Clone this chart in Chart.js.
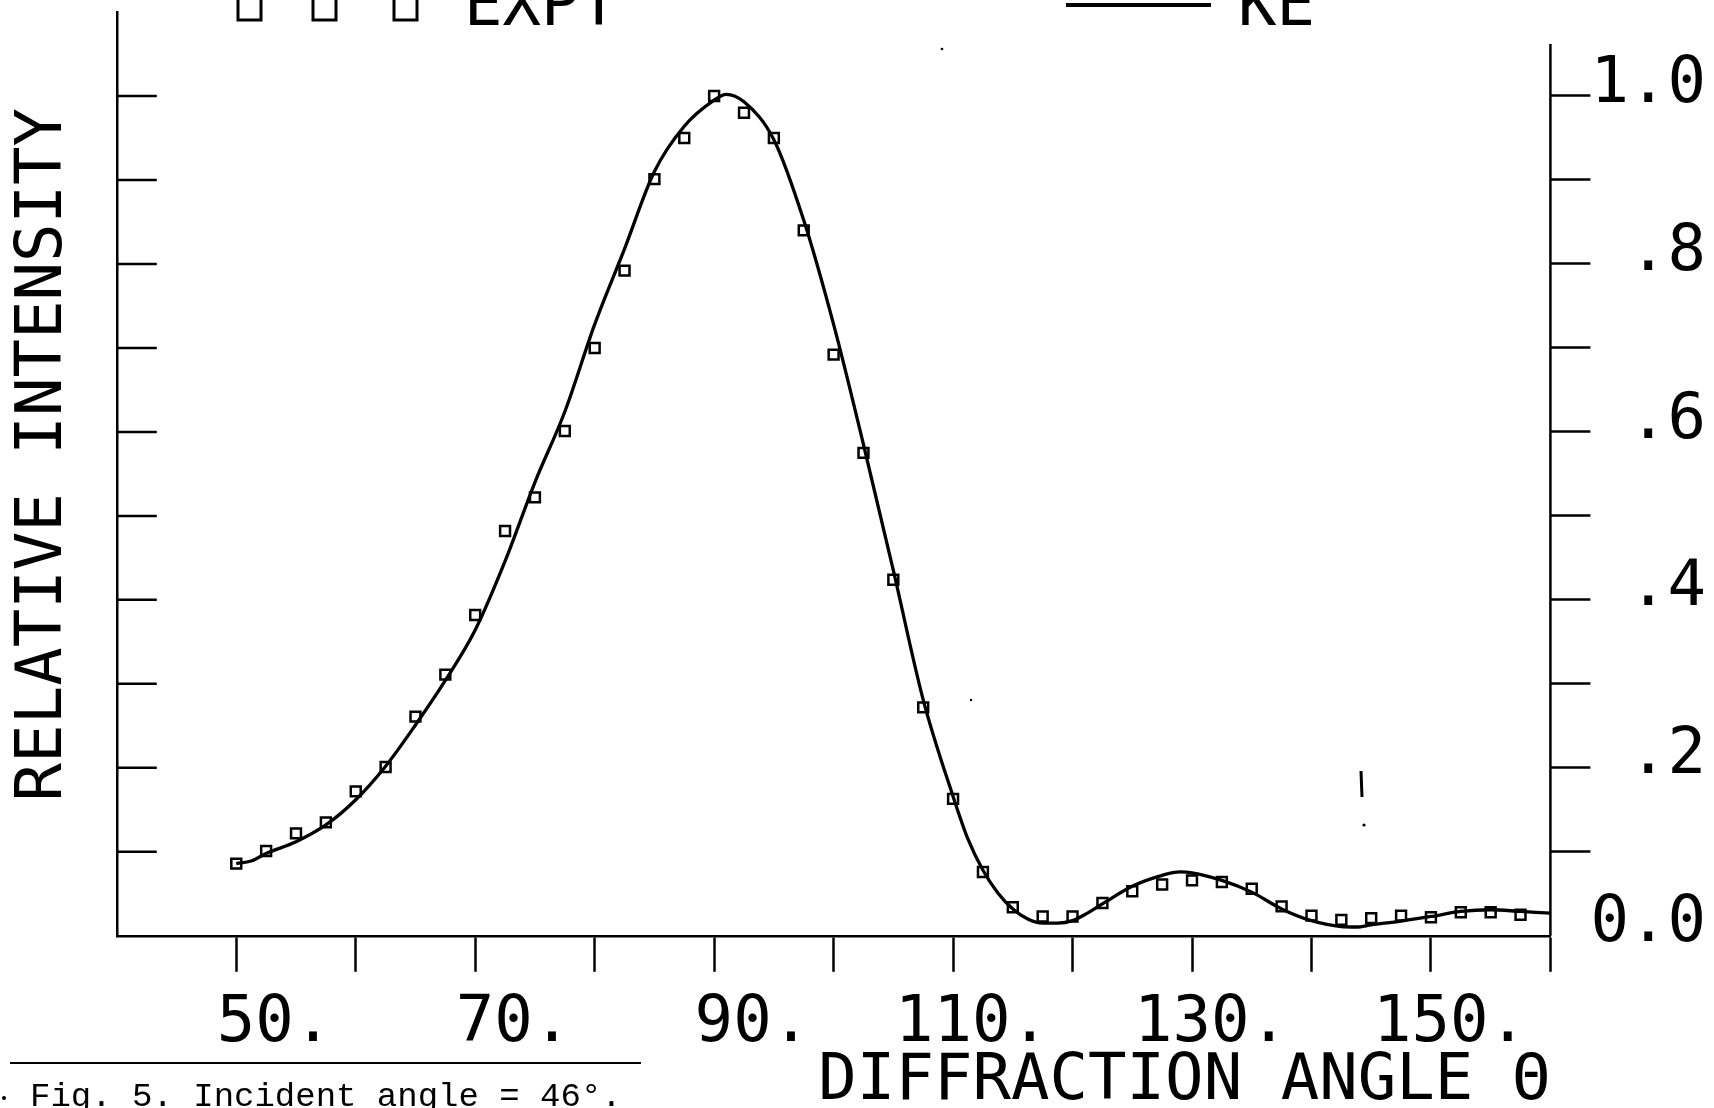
<!DOCTYPE html>
<html>
<head>
    <title>Relative intensity vs diffraction angle</title>
    <script src="https://cdn.jsdelivr.net/npm/chart.js"></script>
    <style>
        body { margin: 0; background: #fff; }
        canvas { display: block; }
    </style>
</head>
<body>
    <canvas id="myChart" width="1714" height="1108"></canvas>
    <script>
        var exptAngles = [50, 52.5, 55, 57.5, 60, 62.5, 65, 67.5, 70, 72.5, 75, 77.5, 80, 82.5, 85, 87.5,
            90, 92.5, 95, 97.5, 100, 102.5, 105, 107.5, 110, 112.5, 115, 117.5, 120, 122.5, 125, 127.5,
            130, 132.5, 135, 137.5, 140, 142.5, 145, 147.5, 150, 152.5, 155, 157.5];
        var exptIntensity = [0.086, 0.101, 0.122, 0.135, 0.172, 0.201, 0.261, 0.311, 0.382, 0.482, 0.522, 0.601,
            0.700, 0.792, 0.901, 0.950, 1.000, 0.980, 0.950, 0.840, 0.692, 0.575, 0.424, 0.272,
            0.163, 0.076, 0.034, 0.023, 0.023, 0.039, 0.053, 0.061, 0.066, 0.064, 0.056, 0.035,
            0.024, 0.019, 0.021, 0.024, 0.022, 0.028, 0.028, 0.025];

        // KE theory curve
        var keAngles = [50, 51.25, 52.5, 55, 57.5, 60, 62.5, 65, 67.5, 70, 72.5, 75, 77.5, 80, 82.5, 85, 87.5,
            90, 91, 92.5, 95, 97.5, 100, 102.5, 105, 107.5, 110, 111.25, 112.5, 113.75, 115, 116.25,
            117.5, 118.75, 120, 121.25, 122.5, 125, 127.5, 129, 130, 132.5, 135, 137.5, 140, 142.5,
            143.75, 145, 147.5, 150, 152.5, 155, 157.5, 160];
        var keIntensity = [0.086, 0.089, 0.098, 0.112, 0.132, 0.162, 0.202, 0.251, 0.304, 0.364, 0.446, 0.540,
            0.624, 0.728, 0.818, 0.910, 0.964, 0.995, 1.002, 0.993, 0.948, 0.852, 0.728, 0.585,
            0.435, 0.281, 0.166, 0.115, 0.078, 0.051, 0.032, 0.020, 0.015, 0.015, 0.018, 0.027,
            0.038, 0.059, 0.072, 0.076, 0.075, 0.066, 0.052, 0.032, 0.018, 0.011, 0.0105, 0.013,
            0.0175, 0.023, 0.029, 0.031, 0.029, 0.027];

        var xLabelValues = [50, 70, 90, 110, 130, 150];
        var xLabelTexts = [' 50.', ' 70.', ' 90.', '110.', '130.', '150.'];
        var yLabelValues = [0, 0.2, 0.4, 0.6, 0.8, 1.0];
        var yLabelTexts = ['0.0', '.2', '.4', '.6', '.8', '1.0'];

        var plotFont = '"DejaVu Sans Mono", monospace';

        function findLabel(values, texts, v) {
            for (var i = 0; i < values.length; i++) {
                if (Math.abs(values[i] - v) < 1e-6) return texts[i];
            }
            return '';
        }

        // bits of the page that are not the plot: legend cut by the top edge, caption, scan specks
        var paperMarks = {
            id: 'paperMarks',
            afterDraw: function (chart) {
                var ctx = chart.ctx;
                var area = chart.chartArea;
                var yScale = chart.scales.y;
                ctx.save();
                ctx.strokeStyle = '#000';
                ctx.fillStyle = '#000';

                // ticks pointing into the plot on the left axis
                ctx.lineWidth = 2.5;
                yScale.ticks.forEach(function (t) {
                    if (t.value <= 0.01 || t.value > 1.05) return;
                    var py = yScale.getPixelForValue(t.value);
                    ctx.beginPath();
                    ctx.moveTo(area.left, py);
                    ctx.lineTo(area.left + 40, py);
                    ctx.stroke();
                });

                // right axis line, shorter than the left one
                ctx.beginPath();
                ctx.moveTo(area.right, yScale.getPixelForValue(1.062));
                ctx.lineTo(area.right, area.bottom);
                ctx.stroke();

                // legend
                var ds = chart.data.datasets;
                ctx.lineWidth = 3;
                [238, 313, 394].forEach(function (bx) {
                    ctx.strokeRect(bx, -6, 23, 26);
                });
                ctx.font = '64px ' + plotFont;
                ctx.textBaseline = 'alphabetic';
                ctx.textAlign = 'left';
                ctx.fillText(ds[0].label, 464, 25);
                ctx.lineWidth = 4;
                ctx.beginPath();
                ctx.moveTo(1066, 5);
                ctx.lineTo(1211, 5);
                ctx.stroke();
                ctx.fillText(ds[1].label, 1238, 25);

                // caption
                ctx.lineWidth = 2;
                ctx.beginPath();
                ctx.moveTo(10, 1063);
                ctx.lineTo(641, 1063);
                ctx.stroke();
                ctx.font = '34px "Liberation Mono", monospace';
                ctx.fillText('Fig. 5. Incident angle = 46\u00B0.', 30, 1106);

                // specks
                ctx.lineWidth = 3;
                ctx.beginPath();
                ctx.moveTo(1361, 771);
                ctx.lineTo(1362, 797);
                ctx.stroke();
                [[1364, 825, 1.6], [942, 49, 1.3], [971, 700, 1.2], [4, 1098, 2]].forEach(function (d) {
                    ctx.beginPath();
                    ctx.arc(d[0], d[1], d[2], 0, Math.PI * 2);
                    ctx.fill();
                });
                ctx.restore();
            }
        };

        function noPadding(scale) {
            scale.paddingTop = 0;
            scale.paddingBottom = 0;
        }

        var ctx = document.getElementById('myChart').getContext('2d');
        var myChart = new Chart(ctx, {
            type: 'scatter',
            data: {
                datasets: [{
                    label: 'EXPT',
                    data: exptAngles.map(function (a, i) { return {x: a, y: exptIntensity[i]}; }),
                    showLine: false,
                    pointStyle: 'rect',
                    pointRadius: 7,
                    pointBorderWidth: 2.5,
                    borderColor: '#000',
                    backgroundColor: 'rgba(0,0,0,0)',
                    yAxisID: 'y'
                }, {
                    label: 'KE',
                    data: keAngles.map(function (a, i) { return {x: a, y: keIntensity[i]}; }),
                    showLine: true,
                    cubicInterpolationMode: 'monotone',
                    pointRadius: 0,
                    borderWidth: 3.3,
                    borderColor: '#000',
                    backgroundColor: '#000',
                    yAxisID: 'y'
                }]
            },
            options: {
                responsive: false,
                animation: false,
                layout: { padding: { left: 0, right: 8, top: 12, bottom: 0 } },
                plugins: {
                    legend: { display: false },
                    tooltip: { enabled: false }
                },
                scales: {
                    x: {
                        type: 'linear',
                        min: 40,
                        max: 160,
                        border: { display: true, color: '#000', width: 2.5 },
                        grid: {
                            drawOnChartArea: false,
                            drawTicks: true,
                            tickLength: 36,
                            tickWidth: 2.5,
                            tickColor: function (c) { return c.tick && c.tick.value === 40 ? 'rgba(0,0,0,0)' : '#000'; }
                        },
                        ticks: {
                            stepSize: 10,
                            autoSkip: false,
                            maxRotation: 0,
                            minRotation: 0,
                            padding: 21,
                            labelOffset: 19,
                            color: '#000',
                            font: { family: plotFont, size: 64, lineHeight: 1.0 },
                            callback: function (v) { return findLabel(xLabelValues, xLabelTexts, v); }
                        },
                        title: {
                            display: true,
                            text: 'DIFFRACTION ANGLE \u0398',
                            align: 'end',
                            color: '#000',
                            padding: { top: -21, bottom: 0 },
                            font: { family: plotFont, size: 64, lineHeight: 0.8 }
                        }
                    },
                    y: {
                        type: 'linear',
                        position: 'left',
                        min: 0,
                        max: 1.1,
                        border: { display: true, color: '#000', width: 2.5 },
                        grid: { drawOnChartArea: false, drawTicks: false },
                        ticks: { display: false, stepSize: 0.1 },
                        title: {
                            display: true,
                            text: ' RELATIVE INTENSITY',
                            color: '#000',
                            padding: { top: 6, bottom: 34 },
                            font: { family: plotFont, size: 64, lineHeight: 1.2 }
                        }
                    },
                    y2: {
                        type: 'linear',
                        position: 'right',
                        min: 0,
                        max: 1.1,
                        afterFit: noPadding,
                        border: { display: false },
                        grid: {
                            drawOnChartArea: false,
                            drawTicks: true,
                            tickLength: 40,
                            tickWidth: 2.5,
                            tickColor: function (c) {
                                var v = c.tick ? c.tick.value : 0;
                                return (v < 0.01 || v > 1.05) ? 'rgba(0,0,0,0)' : '#000';
                            }
                        },
                        ticks: {
                            stepSize: 0.1,
                            autoSkip: false,
                            padding: 0,
                            crossAlign: 'far',
                            labelOffset: -11,
                            color: '#000',
                            font: { family: plotFont, size: 64, lineHeight: 1.0 },
                            callback: function (v) { return findLabel(yLabelValues, yLabelTexts, v); }
                        }
                    }
                }
            },
            plugins: [paperMarks]
        });
    </script>
</body>
</html>
